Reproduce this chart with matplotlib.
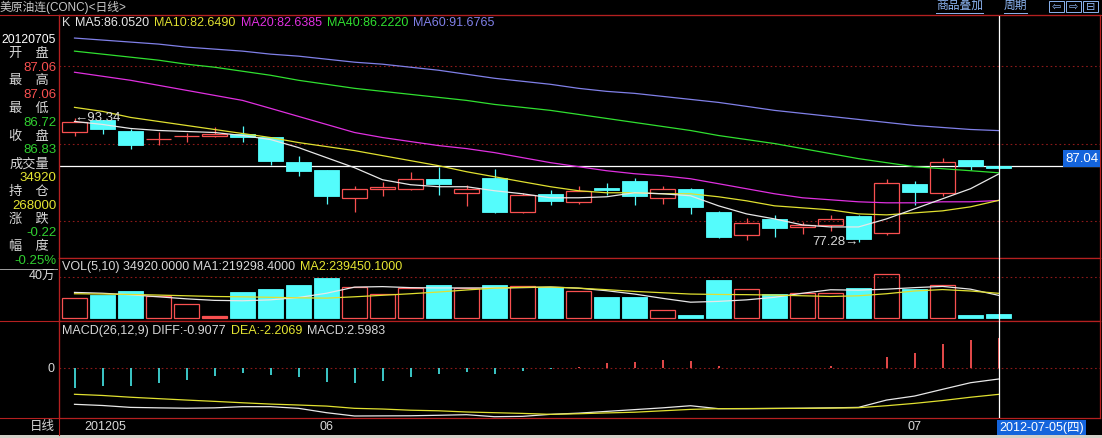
import matplotlib
matplotlib.use('Agg')
import matplotlib.pyplot as plt
from matplotlib.patches import Rectangle
from matplotlib.lines import Line2D

W, H = 1102, 438

# K线 2012-05-21 ~ 2012-07-05 (美原油连 日线)
opens = [91.47, 93.02, 91.59, 90.60, 90.95, 90.98, 91.30, 90.85, 87.62, 86.54,
         82.95, 84.08, 84.17, 85.47, 83.60, 85.60, 81.14, 83.52, 82.44, 84.30,
         85.12, 82.95, 84.08, 81.14, 78.12, 80.19, 79.20, 79.51, 80.62, 78.47,
         84.73, 83.65, 87.84, 87.06]
highs = [93.34, 93.05, 91.85, 91.50, 91.42, 92.15, 92.28, 90.90, 88.35, 86.63,
         84.47, 85.03, 86.32, 86.97, 84.60, 86.67, 83.65, 84.04, 84.47, 84.89,
         85.60, 84.47, 84.30, 81.23, 80.36, 80.71, 79.84, 80.80, 80.80, 85.38,
         85.12, 88.13, 87.90, 87.06]
lows = [91.04, 91.30, 89.35, 89.78, 90.21, 90.85, 90.21, 87.28, 85.80, 82.23,
        81.14, 83.17, 83.95, 83.30, 81.88, 81.01, 81.01, 82.01, 82.14, 83.30,
        82.01, 82.14, 80.93, 77.80, 77.56, 77.90, 78.34, 78.64, 77.28, 78.12,
        82.10, 83.17, 86.54, 86.72]
closes = [92.77, 91.94, 89.78, 90.65, 91.00, 91.30, 90.85, 87.75, 86.45, 83.21,
          84.08, 84.38, 85.47, 84.73, 84.08, 81.14, 83.39, 82.56, 83.86, 83.95,
          83.21, 84.08, 81.79, 77.90, 79.77, 79.07, 79.42, 80.19, 77.69, 84.95,
          83.73, 87.62, 87.05, 86.83]

ma5 = [92.86, 92.47, 91.95, 91.69, 91.56, 91.43, 91.04, 90.52, 89.48, 88.18,
       86.88, 85.32, 84.68, 84.42, 84.42, 83.90, 83.51, 82.99, 82.99, 83.12,
       83.64, 83.51, 83.25, 81.95, 80.91, 80.26, 79.48, 79.22, 79.22, 80.26,
       81.56, 82.86, 84.16, 86.052]
ma10 = [94.68, 94.16, 93.38, 92.86, 92.34, 91.82, 91.30, 90.78, 90.13, 89.61,
        89.09, 88.44, 87.79, 87.14, 86.36, 85.71, 85.06, 84.42, 83.90, 83.64,
        83.64, 83.51, 83.51, 83.12, 82.60, 81.95, 81.69, 81.43, 80.91, 80.78,
        81.04, 81.30, 81.82, 82.649]
ma20 = [99.22, 98.70, 98.18, 97.53, 96.88, 96.23, 95.58, 94.55, 93.51, 92.47,
        91.43, 90.78, 90.26, 89.74, 89.35, 88.83, 88.18, 87.53, 87.01, 86.49,
        86.10, 85.84, 85.45, 84.81, 84.16, 83.51, 82.99, 82.73, 82.47, 82.34,
        82.34, 82.47, 82.47, 82.6385]
ma40 = [101.95, 101.56, 101.17, 100.78, 100.26, 99.87, 99.35, 98.83, 98.18, 97.66,
        97.14, 96.75, 96.36, 95.97, 95.58, 95.06, 94.68, 94.29, 93.77, 93.25,
        92.73, 92.21, 91.69, 91.04, 90.52, 90.00, 89.35, 88.70, 88.05, 87.53,
        87.01, 86.75, 86.49, 86.222]
ma60 = [103.64, 103.38, 103.12, 102.86, 102.47, 102.21, 101.95, 101.56, 101.30, 100.91,
        100.52, 100.26, 99.87, 99.48, 98.96, 98.44, 98.05, 97.66, 97.14, 96.75,
        96.49, 96.10, 95.71, 95.32, 94.81, 94.29, 93.90, 93.51, 93.12, 92.73,
        92.34, 92.08, 91.82, 91.6765]
ma_names = ['MA5', 'MA10', 'MA20', 'MA40', 'MA60']

volume = [191000, 218000, 264000, 215000, 132000, 17000, 254000, 284000, 323000, 393000,
          297000, 234000, 290000, 323000, 290000, 323000, 310000, 300000, 264000, 205000,
          205000, 73000, 26000, 373000, 281000, 231000, 241000, 241000, 290000, 429000,
          284000, 320000, 23000, 34920]
vol_ma1 = [248000, 240000, 225000, 205000, 185000, 170000, 166000, 175000, 198000, 240000,
           300000, 305000, 295000, 292000, 292000, 292000, 295000, 301000, 290000, 265000,
           232000, 190000, 152000, 160000, 175000, 200000, 240000, 274000, 270000, 280000,
           295000, 307000, 280000, 219298.4]
vol_ma2 = [235000, 232000, 228000, 222000, 215000, 208000, 205000, 200000, 195000, 192000,
           205000, 220000, 235000, 252000, 272000, 290000, 298000, 301000, 290000, 275000,
           258000, 245000, 232000, 228000, 226000, 222000, 215000, 208000, 215000, 235000,
           262000, 276000, 262000, 239450.1]

macd = [-1.64, -1.47, -1.47, -1.21, -0.99, -0.65, -0.37, -0.56, -0.71, -1.13,
        -1.21, -1.07, -0.71, -0.48, -0.28, -0.48, -0.23, -0.08, 0.14, 0.42,
        0.56, 0.71, 0.62, 0.20, 0.03, 0.03, 0.04, 0.20, 0.05, 0.99,
        1.33, 2.06, 2.40, 2.5983]
diff = [-3.05, -3.15, -3.31, -3.35, -3.38, -3.35, -3.25, -3.25, -3.39, -3.76,
        -4.04, -4.03, -4.02, -3.98, -3.93, -4.10, -4.07, -3.90, -3.80, -3.65,
        -3.50, -3.35, -3.17, -3.42, -3.42, -3.40, -3.38, -3.35, -3.31, -2.69,
        -2.35, -1.78, -1.22, -0.9077]
dea = [-2.20, -2.30, -2.45, -2.57, -2.69, -2.80, -2.92, -3.03, -3.11, -3.20,
       -3.39, -3.45, -3.55, -3.60, -3.70, -3.76, -3.82, -3.90, -3.85, -3.78,
       -3.72, -3.60, -3.48, -3.42, -3.41, -3.40, -3.39, -3.37, -3.34, -3.17,
       -2.97, -2.73, -2.45, -2.2069]

# 左侧信息栏
info_date = '20120705'
info_labels = ['开\u3000盘', '最\u3000高', '最\u3000低', '收\u3000盘',
               '成交量', '持\u3000仓', '涨\u3000跌', '幅\u3000度']
info_values = ['87.06', '87.06', '86.72', '86.83', '34920', '268000', '-0.22', '-0.25%']
date_labels = ['201205', '06', '07']
date_label_pos = [0.35, 8.75, 29.75]
cross_price = 87.04
cross_date = '2012-07-05(四)'

# 颜色
BG = 'black'
FRAME = '#B42020'
GRID = '#8C1A1A'
UP = '#F85050'
DOWN = '#54FCFC'
TXT = '#D8D8D8'
YEL = '#E6E632'
GRN = '#30D030'
BLUE_BOX = '#1464DC'
LINK = '#8CB4F0'
ma_colors = ['#E8E8E8', '#E0E030', '#E030E0', '#30E030', '#8080E8']
info_colors = [UP, UP, GRN, GRN, YEL, YEL, GRN, GRN]

plt.rcParams['font.family'] = ['Liberation Sans', 'Noto Sans CJK SC', 'DejaVu Sans']

fig = plt.figure(figsize=(W / 100, H / 100), dpi=100, facecolor=BG)


def fx(x):
    return x / W


def fy(y):
    return 1 - y / H


def ftext(x, y, s, **kw):
    kw.setdefault('color', TXT)
    kw.setdefault('fontsize', 9)
    kw.setdefault('va', 'center')
    return fig.text(fx(x), fy(y), s, **kw)


def fline(x0, x1, y0, y1, color=FRAME, lw=0.8):
    fig.add_artist(Line2D([fx(x0), fx(x1)], [fy(y0), fy(y1)], color=color, lw=lw,
                          transform=fig.transFigure))


def fbox(x0, y0, x1, y1, fc):
    fig.add_artist(Rectangle((fx(x0), fy(y1)), fx(x1) - fx(x0), (y1 - y0) / H,
                             fc=fc, ec='none', transform=fig.transFigure))


def panel(top, bottom, ylim):
    ax = fig.add_axes([fx(59), fy(bottom), fx(1100) - fx(59), (bottom - top) / H])
    ax.set_facecolor(BG)
    for s in ax.spines.values():
        s.set_color(FRAME)
        s.set_linewidth(0.9)
    ax.set_xticks([])
    ax.set_yticks([])
    ax.set_xlim(-0.554, 36.625)
    ax.set_ylim(*ylim)
    return ax


ax_p = panel(15, 257.5, (75.27, 106.62))
ax_v = panel(257.5, 321, (-32700, 591000))
ax_m = panel(321, 418, (-4.21, 4.01))

n = len(closes)
idx = list(range(n))
BW = 0.86
dots = (0, (1.5, 2.5))

# ---- K线 ----
for y in (80, 90, 100):
    ax_p.axhline(y, color=GRID, lw=0.8, ls=dots, zorder=1)
ax_p.axhline(cross_price, color='white', lw=0.9, zorder=2)
for i in idx:
    o, h, l, c = opens[i], highs[i], lows[i], closes[i]
    top, bot = max(o, c), min(o, c)
    if c >= o:
        ax_p.vlines(i, top, h, color=UP, lw=0.9, zorder=4)
        ax_p.vlines(i, l, bot, color=UP, lw=0.9, zorder=4)
        ax_p.add_patch(Rectangle((i - BW / 2, bot), BW, top - bot, fill=False,
                                 ec=UP, lw=0.9, zorder=4))
    else:
        ax_p.vlines(i, l, h, color=DOWN, lw=0.9, zorder=4)
        ax_p.add_patch(Rectangle((i - BW / 2, bot), BW, top - bot, fc=DOWN,
                                 ec=DOWN, lw=0.6, zorder=4))
for vals, col in zip([ma60, ma40, ma20, ma10, ma5], ma_colors[::-1]):
    ax_p.plot(idx, vals, color=col, lw=0.9, zorder=5)

hi_i = highs.index(max(highs))
lo_i = lows.index(min(lows))
ax_p.text(hi_i, highs[hi_i], '\u2190' + f'{highs[hi_i]:.2f}', color=TXT, fontsize=9.5,
          ha='left', va='center', zorder=6)
ax_p.text(lo_i, lows[lo_i], f'{lows[lo_i]:.2f}' + '\u2192', color=TXT, fontsize=9.5,
          ha='right', va='center', zorder=6)

# ---- 成交量 ----
ax_v.axhline(400000, color=GRID, lw=0.8, ls=dots, zorder=1)
for i in idx:
    if closes[i] >= opens[i]:
        ax_v.add_patch(Rectangle((i - BW / 2, 0), BW, volume[i], fill=volume[i] < 30000,
                                 fc=UP, ec=UP, lw=0.9, zorder=3))
    else:
        ax_v.add_patch(Rectangle((i - BW / 2, 0), BW, volume[i], fc=DOWN, ec=DOWN,
                                 lw=0.6, zorder=3))
ax_v.plot(idx, vol_ma1, color='#E8E8E8', lw=0.9, zorder=4)
ax_v.plot(idx, vol_ma2, color='#E0E030', lw=0.9, zorder=4)

# ---- MACD ----
ax_m.axhline(0, color=GRID, lw=0.8, ls=dots, zorder=1)
for i in idx:
    ax_m.vlines(i, 0, macd[i], color=UP if macd[i] > 0 else '#40D8D8', lw=1.3, zorder=3)
ax_m.plot(idx, diff, color='#E8E8E8', lw=0.9, zorder=4)
ax_m.plot(idx, dea, color='#E0E030', lw=0.9, zorder=4)

for ax in (ax_p, ax_v, ax_m):
    ax.axvline(idx[-1], color='white', lw=0.9, zorder=7)

# ---- 边框 ----
fline(0, W, 15, 15)
fline(0, 59, 321, 321)
fline(0, 59, 418, 418)
fline(59, 59, 15, 435)
fline(0, 57, 269, 269, color='#A0A0A0', lw=0.7)
fbox(0, 435, W, 438, '#D4D0C8')

# ---- 标题栏 ----
ftext(0, 7, '美原油连(CONC)<日线>', fontsize=8.5, color='#C8C8C8')
ftext(936, 6, '商品叠加', fontsize=8.5, color=LINK)
fline(936, 983, 12.5, 12.5, color=LINK, lw=0.7)
ftext(1004, 6, '周期', fontsize=8.5, color=LINK)
fline(1004, 1027, 12.5, 12.5, color=LINK, lw=0.7)
for k, sym in enumerate(['\u21e6', '\u21e8', '\u229f']):
    x0 = 1049 + k * 17
    fig.add_artist(Rectangle((fx(x0), fy(12)), fx(15), 11 / H, fill=False, ec=LINK,
                             lw=0.7, transform=fig.transFigure))
    ftext(x0 + 7.5, 6.5, sym, fontsize=8, color=LINK, ha='center',
          family=['DejaVu Sans'])


# 指标文字按顺序排
def text_row(ax, x, y, parts, size=9):
    prev = ftext(x, y, parts[0][0], color=parts[0][1], fontsize=size)
    for s, col in parts[1:]:
        prev = ax.annotate(s, xy=(1, 0), xycoords=prev, xytext=(5, 0),
                           textcoords='offset pixels', color=col, fontsize=size,
                           va='bottom', ha='left', annotation_clip=False,
                           clip_on=False, zorder=8)
    return prev


ma_last = [ma5[-1], ma10[-1], ma20[-1], ma40[-1], ma60[-1]]
text_row(ax_p, 62, 23, [('K', TXT)] + [(f'{nm}:{v:.4f}', c) for nm, v, c in
                                       zip(ma_names, ma_last, ma_colors)])
text_row(ax_v, 62, 267, [(f'VOL(5,10) {volume[-1]:.4f} MA1:{vol_ma1[-1]:.4f}', TXT),
                         (f'MA2:{vol_ma2[-1]:.4f}', YEL)])
text_row(ax_m, 62, 331, [(f'MACD(26,12,9) DIFF:{diff[-1]:.4f}', TXT),
                         (f'DEA:{dea[-1]:.4f}', YEL),
                         (f'MACD:{macd[-1]:.4f}', TXT)])

# ---- 左侧信息栏 ----
ftext(56, 40, info_date, ha='right', color='white', fontsize=8.8)
for k, (lab, val, col) in enumerate(zip(info_labels, info_values, info_colors)):
    ftext(29, 40 + 13.8 * (2 * k + 1), lab, ha='center', fontsize=9.5, color=TXT)
    ftext(56.5, 40 + 13.8 * (2 * k + 2), val, ha='right', fontsize=9.5, color=col)
ftext(55, 277, '40万', ha='right', fontsize=9, color=TXT)
ftext(55, 368.5, '0', ha='right', fontsize=9, color=TXT)

# ---- 日期行 ----
ftext(55, 427, '日线', ha='right', fontsize=9, color=TXT)
for pos, lab in zip(date_label_pos, date_labels):
    ax_m.annotate(lab, xy=(pos, 0), xycoords=('data', 'figure fraction'),
                  xytext=(0, fy(427) * H), textcoords='offset pixels',
                  color=TXT, fontsize=9, ha='left', va='center', annotation_clip=False)

# 十字光标标签
fbox(1063, 150, 1100, 167, BLUE_BOX)
ftext(1081.5, 158.5, f'{cross_price:.2f}', ha='center', color='white', fontsize=9.5)
fbox(997, 420, 1086, 435, BLUE_BOX)
ftext(1041.5, 427.5, cross_date, ha='center', color='white', fontsize=9)

fig.savefig('out.png', dpi=100, facecolor=BG)
